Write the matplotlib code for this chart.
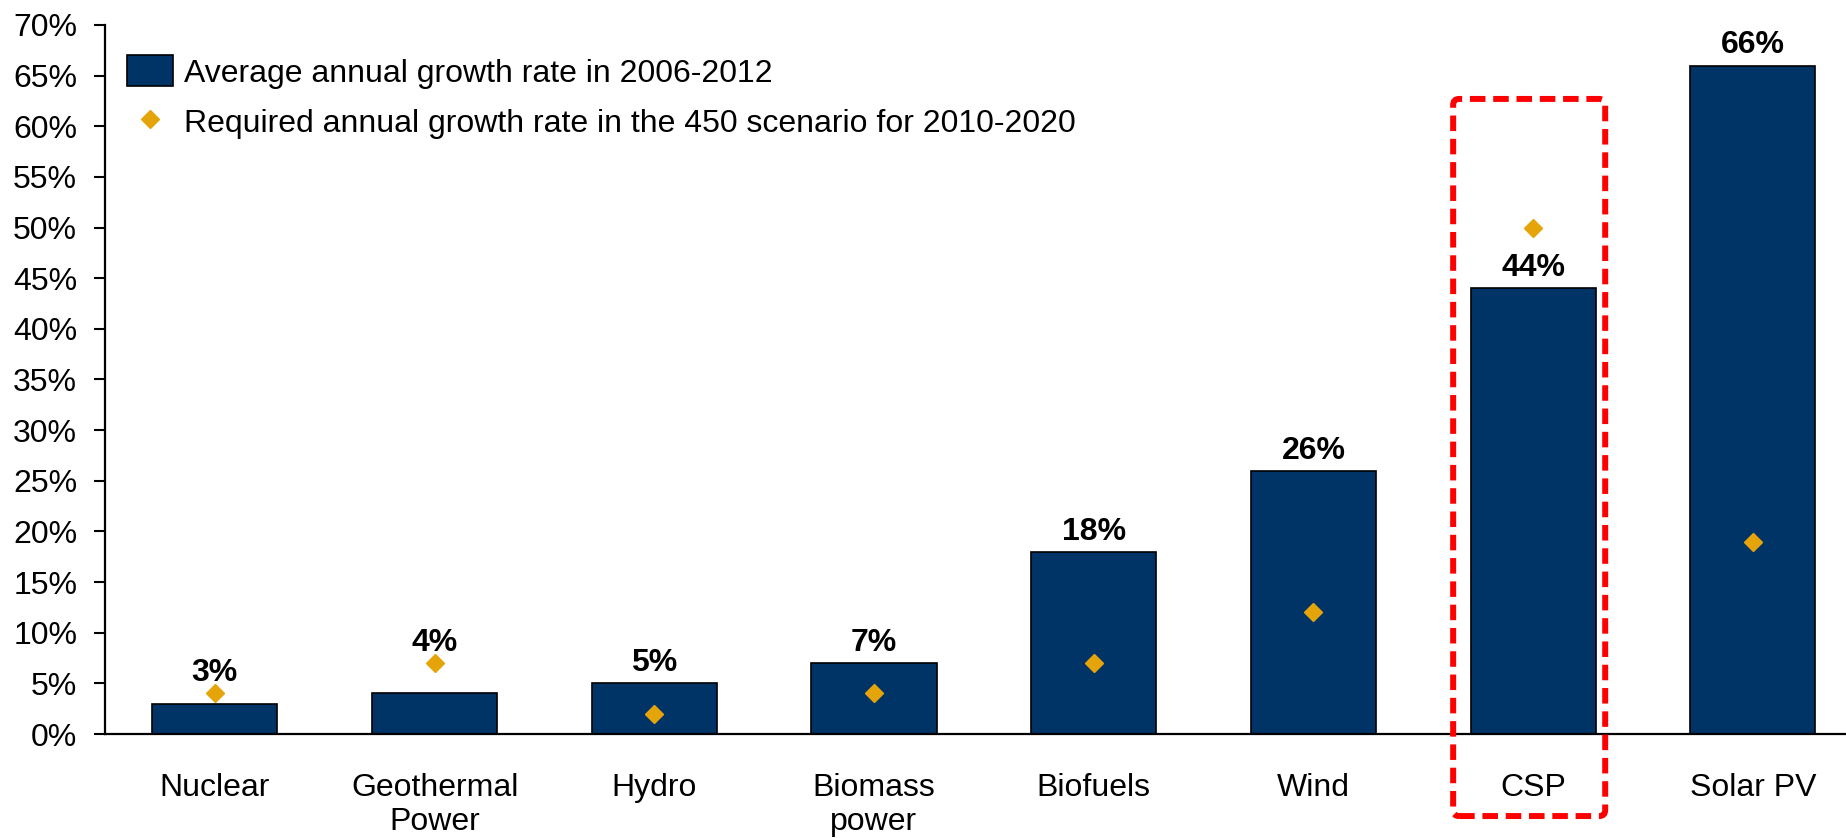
import matplotlib
matplotlib.use("Agg")
import matplotlib.pyplot as plt
import numpy as np
from matplotlib.patches import FancyBboxPatch
from matplotlib.lines import Line2D

plt.rcParams['font.family'] = ['Liberation Sans', 'DejaVu Sans']

categories = ["Nuclear", "Geothermal\nPower", "Hydro", "Biomass\npower",
              "Biofuels", "Wind", "CSP", "Solar PV"]
avg_growth = [3, 4, 5, 7, 18, 26, 44, 66]
required_growth = [4, 7, 2, 4, 7, 12, 50, 19]
yticks = list(range(0, 75, 5))

bar_color = "#003366"
dot_color = "#E5A50A"
fs = 23

fig = plt.figure(figsize=(18.46, 8.38), dpi=100)
ax = fig.add_axes([105 / 1846, 104 / 838, 1741 / 1846, 709 / 838])

x = np.arange(len(categories))
ax.bar(x, avg_growth, width=0.57, color=bar_color, edgecolor="black",
       linewidth=1.2, zorder=2)
ax.plot(x, required_growth, linestyle="none", marker="D", markersize=9.5,
        color=dot_color, zorder=3)

# value labels, lifted over a diamond sitting just on top of the bar
for xi, v, d in zip(x, avg_growth, required_growth):
    base = max(v, d) if 0 < d - v < 4 else v
    ax.text(xi, base + 1.2, "{}%".format(v), ha="center", va="baseline",
            fontsize=fs, fontweight="bold", zorder=4)

ax.set_xlim(-0.5, 7.424)
ax.set_ylim(0, 70)
ax.set_yticks(yticks)
ax.set_yticklabels(["{}%".format(t) for t in yticks], fontsize=fs)
ax.set_xticks(x)
ax.set_xticklabels(categories, fontsize=fs, linespacing=1.2)
ax.tick_params(axis="x", length=0, pad=28)
ax.tick_params(axis="y", length=8, width=1.5, direction="out", pad=12)
for side in ["top", "right"]:
    ax.spines[side].set_visible(False)
for side in ["left", "bottom"]:
    ax.spines[side].set_linewidth(1.6)

handles = [plt.Rectangle((0, 0), 1, 1, facecolor=bar_color, edgecolor="black", linewidth=1.2),
           Line2D([], [], linestyle="none", marker="D", markersize=9.5, color=dot_color)]
labels = ["Average annual growth rate in 2006-2012",
          "Required annual growth rate in the 450 scenario for 2010-2020"]
ax.legend(handles, labels, loc="upper left", bbox_to_anchor=(0.0126, 0.957),
          frameon=False, fontsize=fs, handlelength=1.45, handleheight=1.1,
          handletextpad=0.34, borderpad=0, borderaxespad=0, labelspacing=0.55)

# red dashed highlight around CSP
csp = categories.index("CSP")
(x0, y0) = ax.transData.transform((csp - 0.364, -8.1))
(x1, y1) = ax.transData.transform((csp + 0.328, 62.7))
box = FancyBboxPatch((x0, y0), x1 - x0, y1 - y0,
                     boxstyle="round,pad=0,rounding_size=6",
                     transform=None, fill=False, edgecolor="#FF0000",
                     linewidth=4.3, linestyle=(0, (2.6, 1.3)), clip_on=False, zorder=5)
fig.patches.append(box)

fig.savefig("out.png", dpi=100)
